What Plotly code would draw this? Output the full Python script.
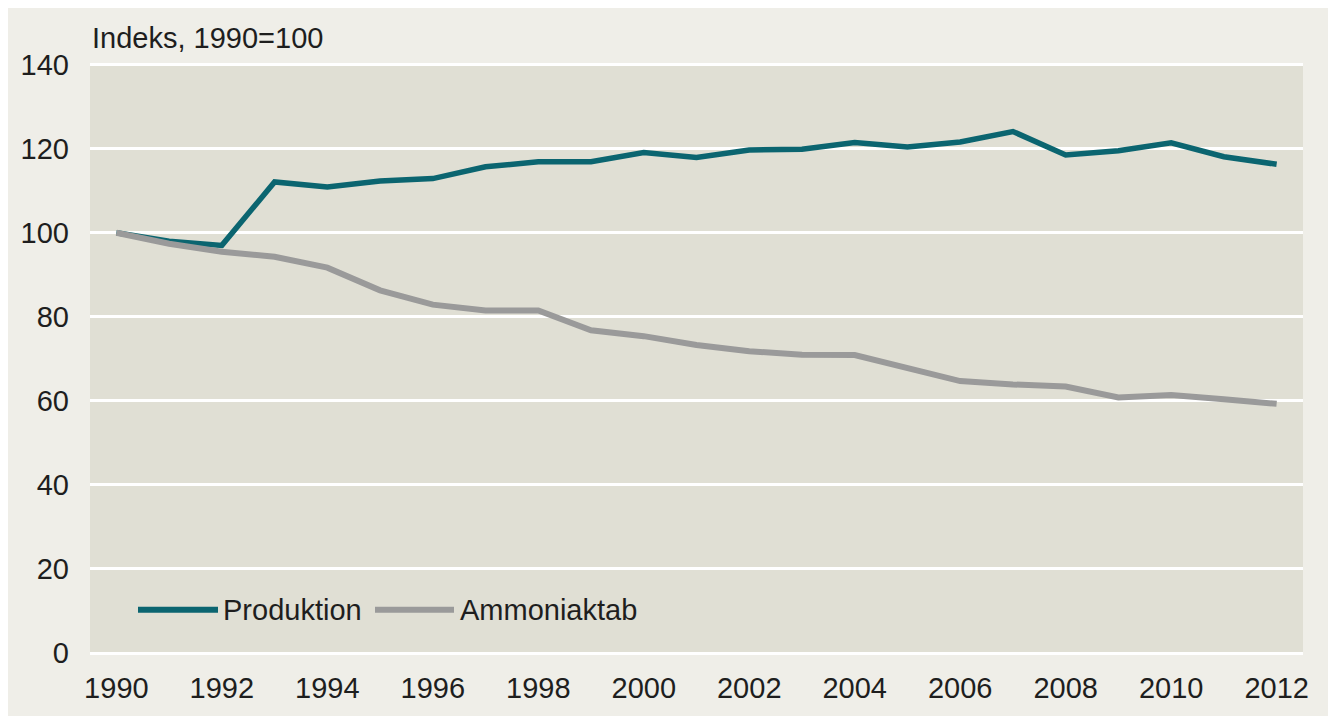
import plotly.graph_objects as go

years = list(range(1990, 2013))
produktion = [100, 98.0, 97.0, 112.1, 110.9, 112.3, 112.9, 115.7, 116.9, 116.9,
              119.1, 117.9, 119.7, 119.9, 121.5, 120.4, 121.6, 124.1, 118.5, 119.5,
              121.4, 118.1, 116.3]
ammoniaktab = [100, 97.4, 95.5, 94.3, 91.7, 86.3, 82.9, 81.5, 81.5, 76.8,
               75.4, 73.3, 71.8, 71.0, 70.9, 67.8, 64.7, 63.9, 63.4, 60.8,
               61.4, 60.4, 59.3]
y_ticks = [0, 20, 40, 60, 80, 100, 120, 140]
x_ticks = list(range(1990, 2013, 2))

TEAL = "#0b6570"
GRAY = "#9a9a9a"
PAGE_BG = "#efeee8"
PLOT_BG = "#e0dfd4"
TXT = "#1e1e1e"
FONT = "Liberation Sans, Arial, sans-serif"
FS = 29

W, H = 1320, 708
ML, MR, MT, MB = 82, 25, 55, 54
PW, PH = W - ML - MR, H - MT - MB


def px(fx):
    return (fx - ML) / PW


def py(fy):
    return (H - MB - fy) / PH


fig = go.Figure()
fig.add_trace(go.Scatter(x=years, y=produktion, name="Produktion", mode="lines",
                         line=dict(color=TEAL, width=5.5), showlegend=False))
fig.add_trace(go.Scatter(x=years, y=ammoniaktab, name="Ammoniaktab", mode="lines",
                         line=dict(color=GRAY, width=6), showlegend=False))

# manual legend
legend_items = [("Produktion", TEAL, 130, 210, 213), ("Ammoniaktab", GRAY, 367, 446, 450)]
for name, col, x0, x1, xt in legend_items:
    fig.add_shape(type="line", xref="paper", yref="paper",
                  x0=px(x0), x1=px(x1), y0=py(610), y1=py(610),
                  line=dict(color=col, width=6))
    fig.add_annotation(text=name, xref="paper", yref="paper", x=px(xt), y=py(610),
                       xanchor="left", yanchor="middle", showarrow=False,
                       font=dict(family=FONT, size=FS, color=TXT))

fig.add_annotation(text="Indeks, 1990=100", xref="paper", yref="paper",
                   x=px(82), y=py(30), xanchor="left", yanchor="middle",
                   showarrow=False, font=dict(family=FONT, size=FS, color=TXT))

fig.update_layout(
    width=W, height=H,
    margin=dict(l=ML, r=MR, t=MT, b=MB, pad=0),
    paper_bgcolor=PAGE_BG, plot_bgcolor=PLOT_BG,
    font=dict(family=FONT, size=FS, color=TXT),
    xaxis=dict(range=[1989.5, 2012.5], tickvals=x_ticks, ticktext=[str(v) for v in x_ticks],
               showgrid=False, zeroline=False, showline=False, ticks="",
               ticklabelstandoff=15, tickfont=dict(size=FS, color=TXT)),
    yaxis=dict(range=[0, 140.4], tickvals=y_ticks, showgrid=True, gridcolor="white",
               gridwidth=2.5, zeroline=True, zerolinecolor="white", zerolinewidth=2.5,
               showline=False, ticks="", ticklabelstandoff=20,
               tickfont=dict(size=FS, color=TXT)),
)

fig.write_html("out.html")
